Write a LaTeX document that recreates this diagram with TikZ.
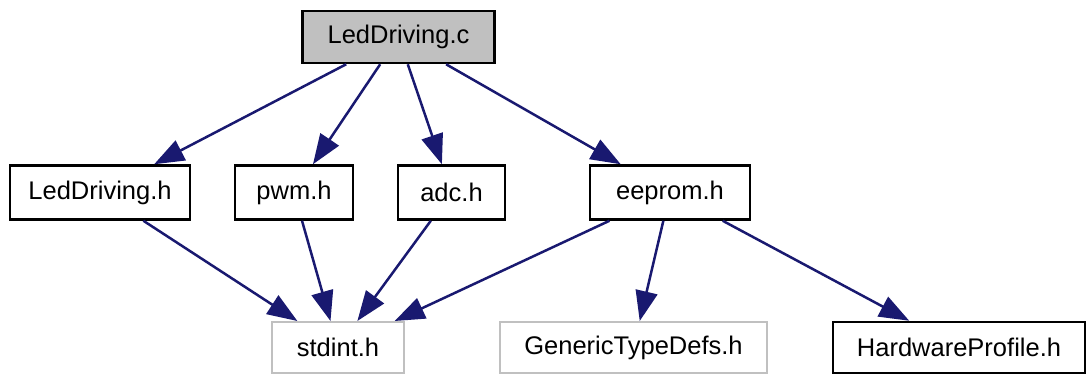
\documentclass[tikz,border=0pt]{standalone}
\usepackage{fontspec}
\setmainfont{Liberation Sans}
\usetikzlibrary{arrows.meta}
\definecolor{edgeblue}{HTML}{191970}
\definecolor{boxgray}{HTML}{C0C0C0}
\tikzset{
  filebox/.style={draw=black, line width=2.5pt, fill=white, inner sep=0pt,
    minimum height=54pt, font=\fontsize{25.5}{30}\selectfont},
  mainbox/.style={filebox, fill=boxgray},
  extbox/.style={filebox, draw=boxgray, line width=2pt, minimum height=51pt},
  dep/.style={draw=edgeblue, line width=2.5pt,
    -{Triangle[length=30pt, width=22pt]}, fill=edgeblue}
}
\begin{document}
\begin{tikzpicture}[x=1pt, y=-1pt]
  \useasboundingbox (0,0) rectangle (1087,376);
  % source file
  \node[mainbox, minimum width=192pt, minimum height=52pt] (c) at (398.5,37) {LedDriving.c};
  % directly included headers
  \node[filebox, minimum width=180pt] (ledh) at (100,192.5) {LedDriving.h};
  \node[filebox, minimum width=118pt] (pwm) at (294,192.5) {pwm.h};
  \node[filebox, minimum width=107pt] (adc) at (451.5,192.5) {adc.h};
  \node[filebox, minimum width=160pt] (eep) at (670,192.5) {eeprom.h};
  % second-level headers
  \node[extbox, minimum width=132pt] (std) at (338,347.5) {stdint.h};
  \node[extbox, minimum width=267pt] (gen) at (633.5,347.5) {GenericTypeDefs.h};
  \node[filebox, minimum width=252pt, minimum height=51pt] (hw) at (959,347.5) {HardwareProfile.h};
  % include edges
  \draw[dep] (c) -- (ledh);
  \draw[dep] (c) -- (pwm);
  \draw[dep] (c) -- (adc);
  \draw[dep] (c) -- (eep);
  \draw[dep] (ledh) -- (std);
  \draw[dep] (pwm) -- (std);
  \draw[dep] (adc) -- (std);
  \draw[dep] (eep) -- (std);
  \draw[dep] (eep) -- (gen);
  \draw[dep] (eep) -- (hw);
\end{tikzpicture}
\end{document}
